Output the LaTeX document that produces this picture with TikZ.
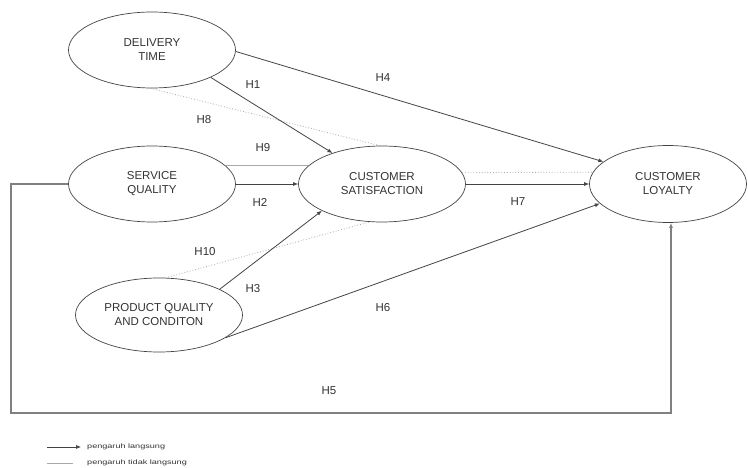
\documentclass[tikz,border=0pt]{standalone}
\usepackage{fontspec}
\setmainfont{Liberation Sans}
\usepackage{graphicx}
\usetikzlibrary{arrows.meta,shapes.geometric}
\definecolor{edgec}{HTML}{444444}
\definecolor{indc}{HTML}{AAAAAA}
\definecolor{txtc}{HTML}{333333}
\begin{document}
\begin{tikzpicture}[x=1pt,y=-1pt,
  var/.style={ellipse,draw=edgec,line width=0.7pt,minimum width=167pt,minimum height=76pt,inner sep=0pt,align=center,text=txtc,font=\fontsize{11.5}{14}\selectfont},
  lbl/.style={text=txtc,font=\fontsize{11.5}{14}\selectfont,inner sep=0pt},
  direct/.style={draw=edgec,line width=0.8pt,-{Latex[length=5pt,width=4pt]}},
  indirect/.style={draw=indc,line width=0.8pt,dotted},
  indsolid/.style={draw=indc,line width=0.8pt},
  loopline/.style={draw=gray,line width=1.1pt,-{Latex[length=5pt,width=4pt]}},
  legtxt/.style={text=txtc,inner sep=0pt,anchor=west,font=\fontsize{6.5}{7}\selectfont}
]
\useasboundingbox (0,0) rectangle (748,468);
\fill[white] (0,0) rectangle (748,468);

\node[var] (DT) at (152,50) {DELIVERY\\TIME};
\node[var] (SQ) at (152,184) {SERVICE\\QUALITY};
\node[var] (CS) at (382,184) {CUSTOMER\\SATISFACTION};
\node[var,minimum width=157pt,minimum height=77pt] (CL) at (668,184) {CUSTOMER\\LOYALTY};
\node[var,minimum height=74pt] (PQ) at (159,315) {PRODUCT QUALITY\\AND CONDITON};

% indirect paths
\draw[indirect] (DT.-92) -- (CS.93);
\draw[indsolid] (SQ.14) -- (CS.166);
\draw[indirect] (CS.8) -- (CL.171.6);
\draw[indirect] (PQ.80) -- (CS.252.5);

% direct paths
\draw[direct] (DT.-25) -- (CS.148.4);
\draw[direct] (DT.-1) -- (CL.161.6);
\draw[direct] (SQ.east) -- (CS.west);
\draw[direct] (CS.east) -- (CL.west);
\draw[direct] (PQ.23) -- (CS.204.3);
\draw[direct] (PQ.-19.4) -- (CL.196);

\coordinate (c1) at (11,184);
\coordinate (c2) at (11,413);
\coordinate (c3) at (671,413);
\draw[loopline] (SQ.west) -- (c1) -- (c2) -- (c3) -- (c3 |- CL.south);

% labels
\node[lbl] (h1) at (253,85) {H1};
\node[lbl] (h4) at (383,78) {H4};
\node[lbl] (h8) at (204,120) {H8};
\node[lbl] (h9) at (263,148) {H9};
\node[lbl] (h2) at (260,202) {H2};
\node[lbl] (h7) at (518,202) {H7};
\node[lbl] (h10) at (205,252) {H10};
\node[lbl] (h3) at (253,289) {H3};
\node[lbl] (h6) at (383,308) {H6};
\node[lbl] (h5) at (329,391) {H5};

% legend
\coordinate (la1) at (47,447);
\coordinate (la2) at (81,447);
\draw[direct,line width=0.7pt] (la1) -- (la2);
\node[legtxt] (lt1) at (87,447) {\scalebox{1.4}[1]{pengaruh langsung}};
\coordinate (lb1) at (47,463);
\coordinate (lb2) at (73,463);
\draw[indsolid] (lb1) -- (lb2);
\node[legtxt] (lt2) at (87,463) {\scalebox{1.4}[1]{pengaruh tidak langsung}};
\end{tikzpicture}
\end{document}
